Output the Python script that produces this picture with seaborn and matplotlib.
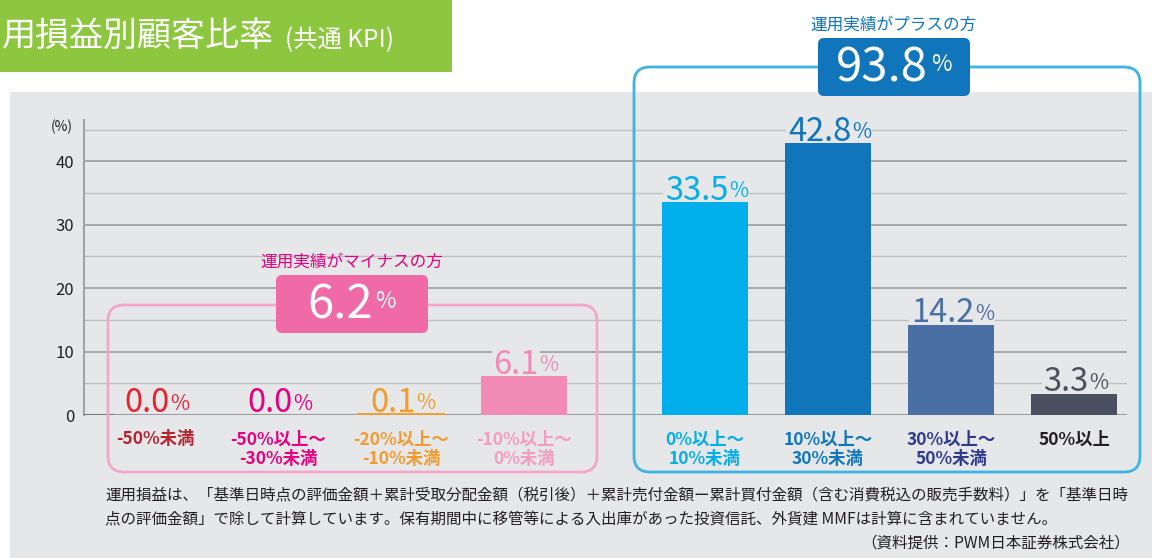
import numpy as np
import pandas as pd
import matplotlib
matplotlib.use('Agg')
import matplotlib.pyplot as plt
from matplotlib.patches import FancyBboxPatch, Rectangle
import seaborn as sns

# chart data
categories = ['-50%未満', '-50%以上～\n-30%未満', '-20%以上～\n-10%未満', '-10%以上～\n0%未満',
              '0%以上～\n10%未満', '10%以上～\n30%未満', '30%以上～\n50%未満', '50%以上']
values = [0.0, 0.0, 0.1, 6.1, 33.5, 42.8, 14.2, 3.3]
bar_colors = ['#E8212E', '#E5007F', '#F39A2C', '#F18AB5', '#00AEEB', '#1175BC', '#4A6FA5', '#4A5060']
label_colors = ['#E8212E', '#E5007F', '#F39A2C', '#F18AB5', '#00AEEB', '#1175BC', '#4A6FA5', '#4A5060']
tick_colors = ['#B5232F', '#E5007F', '#F39A2C', '#F59BC0', '#00AEEB', '#1175BC', '#2E3A8C', '#231F20']
minus_total = 6.2
plus_total = 93.8
minus_title = '運用実績がマイナスの方'
plus_title = '運用実績がプラスの方'
title = '用損益別顧客比率'
subtitle = '(共通 KPI)'
note_lines = ['運用損益は、「基準日時点の評価金額＋累計受取分配金額（税引後）＋累計売付金額ー累計買付金額（含む消費税込の販売手数料）」を「基準日時',
              '点の評価金額」で除して計算しています。保有期間中に移管等による入出庫があった投資信託、外貨建 MMFは計算に含まれていません。']
source = '（資料提供：PWM日本証券株式会社）'

sns.set_theme(style='white')
plt.rcParams['font.family'] = ['Noto Sans CJK JP', 'DejaVu Sans']

W, H = 1152, 558
BG = '#E6E7E9'
fig = plt.figure(figsize=(W / 100, H / 100), dpi=100)
fig.patch.set_facecolor('white')

# background layer, pixel coordinates
bg = fig.add_axes([0, 0, 1, 1], zorder=0)
bg.set_xlim(0, W)
bg.set_ylim(H, 0)
bg.axis('off')
bg.add_patch(Rectangle((10, 92), W - 10, H - 92, facecolor=BG, edgecolor='none'))
bg.add_patch(Rectangle((0, 0), 452, 72, facecolor='#8DC63F', edgecolor='none'))
bg.text(62, 127, '(%)', ha='center', va='center', fontsize=10, color='#231F20')

# main chart
ax = fig.add_axes([84 / W, 1 - 415 / H, (1127 - 84) / W, (415 - 120) / H], zorder=1)
ax.patch.set_alpha(0)

xpos = np.r_[np.arange(4), np.arange(4) + 4.47]
df = pd.DataFrame({'pos': xpos, 'value': values, 'group': categories})
sns.barplot(data=df, x='pos', y='value', hue='group', hue_order=categories,
            palette=dict(zip(categories, bar_colors)), native_scale=True, width=0.7,
            dodge=False, legend=False, saturation=1, ax=ax, zorder=5, linewidth=0)

for p in ax.patches:
    h = p.get_height()
    if 0 < h < 0.5:
        p.set_edgecolor(p.get_facecolor())
        p.set_linewidth(1.3)

ax.set_xlim(-0.577, 7.90)
ax.set_ylim(0, 46.5)
ax.set_yticks(range(0, 41, 10))
ax.set_yticks(range(5, 46, 10), minor=True)
ax.grid(axis='y', which='major', color='#A3A3A5', lw=1.3)
ax.grid(axis='y', which='minor', color='#BEBFC1', lw=1.0)
ax.xaxis.grid(False)
ax.set_axisbelow(True)
ax.tick_params(which='both', length=0)
ax.tick_params(axis='y', labelsize=12, labelcolor='#231F20', pad=7)
for s in ['top', 'right', 'bottom']:
    ax.spines[s].set_visible(False)
ax.spines['left'].set_color('#A3A3A5')
ax.spines['left'].set_linewidth(1.5)
ax.axhline(0, color='#9D9D9F', lw=1.5, zorder=4)
ax.axhline(0, xmin=0, xmax=29 / 1043, color='#6D6E70', lw=2, zorder=4)
ax.set_xlabel('')
ax.set_ylabel('')

ax.set_xticks(xpos)
ax.set_xticklabels(categories, fontsize=12.5, fontweight='bold', linespacing=1.1)
ax.tick_params(axis='x', pad=11)
for lbl, c in zip(ax.get_xticklabels(), tick_colors):
    lbl.set_color(c)

# value labels
for x, v, c in zip(xpos, values, label_colors):
    t = ax.annotate(f'{v:.1f}', xy=(x, v), xytext=(-6, 2), textcoords='offset points',
                    ha='center', va='baseline', fontsize=23.5, color=c, zorder=3,
                    bbox=dict(boxstyle='square,pad=0.05', fc=BG, ec='none'))
    ax.annotate('%', xy=(1, 1), xycoords=t, xytext=(0.5, -4), textcoords='offset points',
                ha='left', va='top', fontsize=15, color=c, zorder=3,
                bbox=dict(boxstyle='square,pad=0.05', fc=BG, ec='none'))

# overlay: group boxes, titles, notes
ov = fig.add_axes([0, 0, 1, 1], zorder=2)
ov.set_xlim(0, W)
ov.set_ylim(H, 0)
ov.axis('off')

ov.add_patch(FancyBboxPatch((108, 305), 489, 167, boxstyle='round,pad=0,rounding_size=16',
                            fc='none', ec='#F4A7C9', lw=2))
ov.add_patch(FancyBboxPatch((634, 67), 506, 405, boxstyle='round,pad=0,rounding_size=16',
                            fc='none', ec='#3DB4E4', lw=2))


def total_box(x0, y0, total, fc, head, head_color):
    ov.add_patch(FancyBboxPatch((x0, y0), 152, 58, boxstyle='round,pad=0,rounding_size=6',
                                fc=fc, ec='none'))
    t = ov.text(x0 + 76 - 12, y0 + 30, f'{total:.1f}', ha='center', va='center',
                fontsize=34, color='white')
    ov.annotate('%', xy=(1, 1), xycoords=t, xytext=(2, -7), textcoords='offset points',
                ha='left', va='top', fontsize=16, color='white')
    ov.text(x0 + 76, y0 - 13, head, ha='center', va='center', fontsize=12, color=head_color)


total_box(276, 275, minus_total, '#F06AA7', minus_title, '#E5007F')
total_box(818, 38, plus_total, '#1175BC', plus_title, '#1175BC')

ov.text(2, 36, title, ha='left', va='center', fontsize=24.5, color='white')
ov.text(285, 40, subtitle, ha='left', va='center', fontsize=17.5, color='white')

ov.text(105, 495, note_lines[0], ha='left', va='center', fontsize=11.2, color='#231F20')
ov.text(105, 519, note_lines[1], ha='left', va='center', fontsize=11.2, color='#231F20')
ov.text(1130, 543, source, ha='right', va='center', fontsize=11.2, color='#231F20')

fig.savefig('out.png', dpi=100, facecolor='white')
